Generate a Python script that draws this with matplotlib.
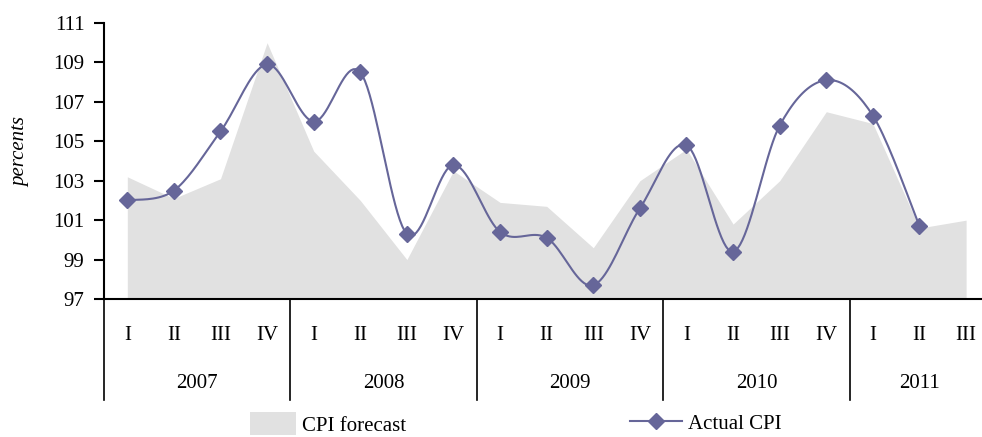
import numpy as np
import matplotlib
matplotlib.use("Agg")
import matplotlib.pyplot as plt
import matplotlib.transforms as mtransforms
from matplotlib.patches import Patch
from matplotlib.lines import Line2D

plt.rcParams['font.family'] = ['Liberation Serif', 'DejaVu Serif']

years = ["2007", "2008", "2009", "2010", "2011"]
quarters = ["I", "II", "III", "IV", "I", "II", "III", "IV", "I", "II", "III", "IV",
            "I", "II", "III", "IV", "I", "II", "III"]
cpi_forecast = [103.2, 102.1, 103.1, 110.0, 104.5, 102.0, 99.0, 103.5,
                101.9, 101.7, 99.6, 103.0, 104.6, 100.8, 103.0, 106.5,
                105.9, 100.6, 101.0]
actual_cpi = [102.0, 102.5, 105.5, 108.9, 106.0, 108.5, 100.3, 103.8,
              100.4, 100.1, 97.7, 101.6, 104.8, 99.4, 105.8, 108.1,
              106.3, 100.7]

FILL = "#e1e1e1"
LINE = "#666699"
FS = 15


def smooth(xs, ys, steps=20):
    # catmull-rom style curve through the points, like a spreadsheet "smoothed line"
    xs = np.asarray(xs, float)
    ys = np.asarray(ys, float)
    px = np.concatenate([[xs[0]], xs, [xs[-1]]])
    py = np.concatenate([[ys[0]], ys, [ys[-1]]])
    outx, outy = [], []
    t = np.linspace(0, 1, steps, endpoint=False)
    for i in range(1, len(px) - 2):
        for arr, out in ((px, outx), (py, outy)):
            p0, p1, p2, p3 = arr[i - 1], arr[i], arr[i + 1], arr[i + 2]
            c1 = p1 + (p2 - p0) / 6
            c2 = p2 - (p3 - p1) / 6
            out.extend((1 - t) ** 3 * p1 + 3 * (1 - t) ** 2 * t * c1
                       + 3 * (1 - t) * t ** 2 * c2 + t ** 3 * p2)
    outx.append(xs[-1])
    outy.append(ys[-1])
    return outx, outy


fig = plt.figure(figsize=(9.82, 4.37), dpi=100)
W, H = 982.0, 437.0
left, right, top, bottom = 104, 104 + 19 * 46.6, 23, 299
ax = fig.add_axes([left / W, 1 - bottom / H, (right - left) / W, (bottom - top) / H])

x = np.arange(len(quarters))
ax.fill_between(x, 97, cpi_forecast, color=FILL, lw=0)
xa = np.arange(len(actual_cpi))
sx, sy = smooth(xa, actual_cpi)
ax.plot(sx, sy, color=LINE, lw=1.5, zorder=3)
ax.plot(xa, actual_cpi, ls="none", marker="D", ms=8.5, color=LINE, zorder=4)

ax.set_xlim(-0.5, len(quarters) - 0.5)
ax.set_ylim(97, 111)
ax.set_yticks(range(97, 112, 2))
ax.tick_params(axis="y", direction="out", length=7, width=1.5, pad=7, labelsize=FS)
ax.tick_params(axis="x", bottom=False, labelbottom=False)
for s in ("top", "right"):
    ax.spines[s].set_visible(False)
for s in ("left", "bottom"):
    ax.spines[s].set_linewidth(1.5)

ax.set_ylabel("percents", fontstyle="italic", fontsize=FS)
ax.yaxis.set_label_coords(-(left - 30) / (right - left), (bottom - 152) / (bottom - top))

trans = mtransforms.blended_transform_factory(ax.transData, ax.transAxes)
h = bottom - top
for i, q in enumerate(quarters):
    ax.text(i, -(335 - bottom) / h, q, transform=trans, ha="center", va="center", fontsize=FS)
for k, yr in enumerate(years):
    n = min(4, len(quarters) - 4 * k)
    ax.text(4 * k + (n - 1) / 2, -(383 - bottom) / h, yr, transform=trans,
            ha="center", va="center", fontsize=FS)
for k in range(len(years)):
    ax.plot([4 * k - 0.5] * 2, [0, -(400 - bottom) / h], transform=trans,
            color="black", lw=1.2, clip_on=False)

leg_kw = dict(loc="center left", frameon=False, fontsize=FS, borderpad=0,
              borderaxespad=0, handletextpad=0.3)
fig.legend(handles=[Patch(facecolor=FILL, edgecolor="none", label="CPI forecast")],
           bbox_to_anchor=(250 / W, 1 - 424 / H), handlelength=2.2, handleheight=1.3,
           **leg_kw)
fig.legend(handles=[Line2D([], [], color=LINE, lw=1.5, marker="D", ms=8.5, label="Actual CPI")],
           bbox_to_anchor=(630 / W, 1 - 424 / H), handlelength=2.5, **leg_kw)

fig.savefig("out.png", dpi=100)
